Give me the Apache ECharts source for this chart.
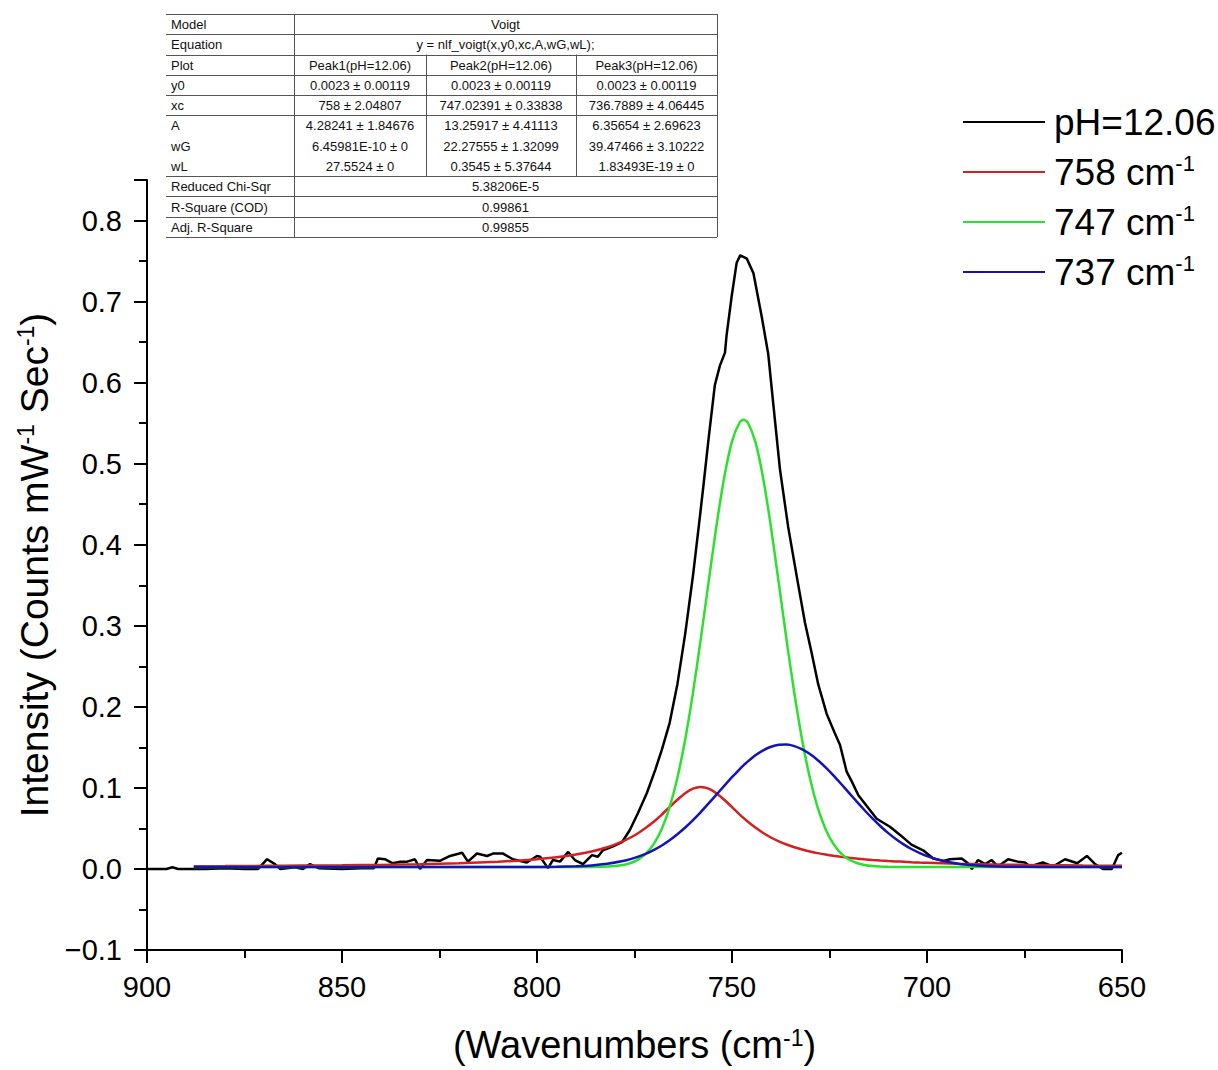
<!DOCTYPE html>
<html>
<head>
<meta charset="utf-8">
<script src="https://cdn.jsdelivr.net/npm/echarts@6/dist/echarts.min.js"></script>
<style>
html,body{margin:0;padding:0;background:#fff;}
#chart{width:1218px;height:1070px;}
</style>
</head>
<body>
<div id="chart"></div>
<script>
// ---------- DATA ----------
// Experimental spectrum (pH=12.06): wavenumber (cm-1) and intensity
const expWn = [900,895,893.5,892,885,880,875,871.5,869.2,867.2,865.9,862,860,858.2,856,850,845,841.8,840.8,839,837,835,833.3,831.3,830,828.2,824.9,822.3,819.2,817.7,815.4,812.8,811.3,808.7,806.2,802.6,800,799.2,797.2,795.9,794.1,792,790.3,788.2,785.9,784.4,783.1,780.5,778.2,776.2,774.1,771.8,769.7,768,766,764,762,760,758.2,757.3,756,754.4,753.1,751.8,751.4,750.1,748.8,747.9,746.2,744.5,742.4,740.7,739,737.7,735.6,733.4,731.3,729.6,727.9,725.7,723.6,722.3,720.6,719.3,717.6,715.5,712.9,709.5,706.9,704,701,698.4,695.8,694.1,691.1,689.5,688.5,686.9,685.1,683.4,681.8,679.2,676.7,674.9,673.6,670.3,667.7,664.6,661.5,659,656.9,654.9,652.6,651,650];
const expIntensity = [0,0,0.002,0,0,0.001,0,0,0.012,0.006,0,0.002,0,0.006,0.001,0,0.001,0.001,0.013,0.012,0.007,0.009,0.009,0.012,0,0.011,0.010,0.016,0.020,0.009,0.019,0.016,0.019,0.019,0.012,0.008,0.016,0.015,0.001,0.011,0.009,0.021,0.011,0.006,0.017,0.015,0.023,0.028,0.033,0.048,0.069,0.094,0.122,0.147,0.180,0.228,0.290,0.362,0.436,0.474,0.531,0.597,0.621,0.637,0.658,0.706,0.748,0.757,0.753,0.735,0.682,0.635,0.554,0.493,0.422,0.361,0.304,0.267,0.228,0.191,0.167,0.153,0.120,0.108,0.091,0.078,0.062,0.052,0.042,0.030,0.023,0.013,0.010,0.012,0.013,0.007,0,0.011,0.006,0.011,0.003,0.012,0.009,0.008,0.003,0.008,0.003,0.012,0.007,0.016,0.006,0,0,0.017,0.020];

// Fitted peak components on a common wavenumber grid
const fitWn = [888,880,870,860,850,840,830,820,810,800,795,790,786,782,778,776,774,772,770,768,766,764,762,760,758,756,754,752,750,748,747,746,744,742,740,738,736,734,732,730,728,726,724,722,720,718,716,714,712,710,708,706,704,702,700,696,692,688,684,680,670,660,650];
const peak758 = [0.0034,0.0035,0.0038,0.0041,0.0045,0.0050,0.0058,0.0070,0.0088,0.0119,0.0143,0.0178,0.0216,0.0268,0.0341,0.0388,0.0444,0.0510,0.0585,0.0671,0.0763,0.0854,0.0935,0.0992,0.1012,0.0992,0.0935,0.0854,0.0763,0.0671,0.0627,0.0585,0.0510,0.0444,0.0388,0.0341,0.0302,0.0268,0.0240,0.0216,0.0195,0.0178,0.0162,0.0149,0.0138,0.0128,0.0119,0.0111,0.0104,0.0098,0.0093,0.0088,0.0083,0.0079,0.0076,0.0070,0.0064,0.0060,0.0056,0.0053,0.0047,0.0042,0.0039];
const peak747 = [0.0023,0.0023,0.0023,0.0023,0.0023,0.0023,0.0023,0.0023,0.0023,0.0023,0.0023,0.0023,0.0024,0.0029,0.0049,0.0074,0.0118,0.0192,0.0312,0.0495,0.0761,0.1125,0.1598,0.2176,0.2838,0.3541,0.4228,0.4829,0.5276,0.5514,0.5543,0.5511,0.5269,0.4818,0.4214,0.3527,0.2824,0.2164,0.1588,0.1117,0.0754,0.0491,0.0309,0.0190,0.0116,0.0073,0.0049,0.0035,0.0029,0.0026,0.0024,0.0023,0.0023,0.0023,0.0023,0.0023,0.0023,0.0023,0.0023,0.0023,0.0023,0.0023,0.0023];
const peak737 = [0.0023,0.0023,0.0023,0.0023,0.0023,0.0023,0.0023,0.0023,0.0023,0.0024,0.0027,0.0033,0.0043,0.0063,0.0097,0.0121,0.0152,0.0190,0.0236,0.0290,0.0354,0.0428,0.0511,0.0603,0.0702,0.0808,0.0916,0.1025,0.1132,0.1233,0.1280,0.1324,0.1402,0.1464,0.1508,0.1532,0.1534,0.1515,0.1475,0.1417,0.1341,0.1253,0.1154,0.1048,0.0939,0.0830,0.0724,0.0623,0.0530,0.0445,0.0369,0.0303,0.0246,0.0199,0.0159,0.0101,0.0065,0.0045,0.0034,0.0028,0.0024,0.0023,0.0023];

const seriesNames = ['pH=12.06','758 cm-1','747 cm-1','737 cm-1'];
const seriesColors = ['#000000','#d42020','#2ee02e','#1414b4'];

// Fit results table (text)
const tableRows = [
  ['Model','Voigt'],
  ['Equation','y = nlf_voigt(x,y0,xc,A,wG,wL);'],
  ['Plot','Peak1(pH=12.06)','Peak2(pH=12.06)','Peak3(pH=12.06)'],
  ['y0','0.0023 ± 0.00119','0.0023 ± 0.00119','0.0023 ± 0.00119'],
  ['xc','758 ± 2.04807','747.02391 ± 0.33838','736.7889 ± 4.06445'],
  ['A','4.28241 ± 1.84676','13.25917 ± 4.41113','6.35654 ± 2.69623'],
  ['wG','6.45981E-10 ± 0','22.27555 ± 1.32099','39.47466 ± 3.10222'],
  ['wL','27.5524 ± 0','0.3545 ± 5.37644','1.83493E-19 ± 0'],
  ['Reduced Chi-Sqr','5.38206E-5'],
  ['R-Square (COD)','0.99861'],
  ['Adj. R-Square','0.99855']
];

// ---------- TABLE GRAPHIC ----------
const FONT = '"Liberation Sans", Arial, sans-serif';
const colX = [166, 294, 426, 576, 717];
const tTop = 14, rowH = 20.27;
const tBottom = tTop + rowH * tableRows.length;
const g = [];
const lineStyle = {stroke:'#555', lineWidth:1};
for (let r = 0; r <= tableRows.length; r++) {
  if (r === 6 || r === 7) continue;
  const y = Math.round(tTop + r * rowH) + 0.5;
  g.push({type:'line', shape:{x1:colX[0], y1:y, x2:colX[4], y2:y}, style: lineStyle, silent:true});
}
[colX[1], colX[4]].forEach(x => g.push({type:'line', shape:{x1:x+0.5, y1:tTop, x2:x+0.5, y2:tBottom}, style: lineStyle, silent:true}));
[colX[2], colX[3]].forEach(x => g.push({type:'line', shape:{x1:x+0.5, y1:tTop + 2*rowH, x2:x+0.5, y2:tTop + 8*rowH}, style: lineStyle, silent:true}));
tableRows.forEach((row, r) => {
  const cy = tTop + r * rowH + rowH / 2 + 0.5;
  g.push({type:'text', x: colX[0] + 5, y: cy, style:{text: row[0], font: '13px ' + FONT, fill:'#111', verticalAlign:'middle', textAlign:'left'}, silent:true});
  if (row.length === 2) {
    g.push({type:'text', x: (colX[1] + colX[4]) / 2, y: cy, style:{text: row[1], font: '13px ' + FONT, fill:'#111', verticalAlign:'middle', textAlign:'center'}, silent:true});
  } else {
    for (let c = 1; c < 4; c++) {
      g.push({type:'text', x: (colX[c] + colX[c+1]) / 2, y: cy, style:{text: row[c], font: '13px ' + FONT, fill:'#111', verticalAlign:'middle', textAlign:'center'}, silent:true});
    }
  }
});

// ---------- CHART ----------
const chart = echarts.init(document.getElementById('chart'), null, {renderer:'svg'});
const supRich = (base) => ({
  sup: {fontSize: Math.round(base * 0.6), fontFamily: FONT, color:'#000', verticalAlign:'top', lineHeight: Math.round(base*0.6)},
  n: {fontSize: base, fontFamily: FONT, color:'#000'}
});
const compData = (arr) => fitWn.map((x, i) => [x, arr[i]]);

chart.setOption({
  animation: false,
  backgroundColor: '#fff',
  textStyle: {fontFamily: FONT},
  grid: {left: 147, right: 96, top: 180, bottom: 120, containLabel: false},
  legend: {
    orient: 'vertical',
    left: 958,
    top: 97,
    itemWidth: 82,
    itemHeight: 2,
    itemGap: 10,
    icon: 'rect',
    data: seriesNames,
    formatter: (name) => name.indexOf('cm-1') >= 0 ? '{n|' + name.replace(' cm-1', ' cm') + '}{sup|-1}' : '{n|' + name + '}',
    textStyle: {fontSize: 37, lineHeight: 40, color:'#000', fontFamily: FONT, padding:[0,0,0,4], rich: supRich(37)}
  },
  xAxis: {
    type: 'value',
    min: 650, max: 900, interval: 50,
    inverse: true,
    name: '{n|(Wavenumbers (cm}{sup|-1}{n|)}',
    nameLocation: 'middle',
    nameGap: 76,
    nameTextStyle: {fontSize: 38, color:'#000', rich: supRich(38)},
    axisLine: {onZero: false, lineStyle: {color:'#000', width: 2}},
    axisTick: {show: true, inside: false, length: 13, lineStyle: {color:'#000', width: 2}},
    minorTick: {show: true, splitNumber: 2, length: 8, lineStyle: {color:'#000', width: 2}},
    axisLabel: {fontSize: 29, color:'#000', margin: 22, fontFamily: FONT},
    splitLine: {show: false}
  },
  yAxis: {
    type: 'value',
    min: -0.1, max: 0.85, interval: 0.1,
    name: '{n|Intensity (Counts mW}{sup|-1}{n| Sec}{sup|-1}{n|)}',
    nameLocation: 'middle',
    nameGap: 88,
    nameRotate: 90,
    nameTextStyle: {fontSize: 39, color:'#000', rich: supRich(39)},
    axisLine: {onZero: false, lineStyle: {color:'#000', width: 2}},
    axisTick: {show: true, inside: false, length: 13, lineStyle: {color:'#000', width: 2}},
    minorTick: {show: true, splitNumber: 2, length: 8, lineStyle: {color:'#000', width: 2}},
    axisLabel: {
      fontSize: 29, color:'#000', margin: 25, fontFamily: FONT,
      showMaxLabel: false,
      formatter: (v) => v > 0.81 ? '' : (v < 0 ? '\u2212' + Math.abs(v).toFixed(1) : v.toFixed(1))
    },
    splitLine: {show: false}
  },
  graphic: [{type:'group', x: 0, y: 0, children: g}],
  series: [
    {name: seriesNames[0], type:'line', data: expWn.map((x,i)=>[x, expIntensity[i]]), showSymbol:false, color: seriesColors[0], lineStyle:{color: seriesColors[0], width: 2.5}, z: 2},
    {name: seriesNames[1], type:'line', data: compData(peak758), smooth: 0.2, showSymbol:false, color: seriesColors[1], lineStyle:{color: seriesColors[1], width: 2.5}, z: 3},
    {name: seriesNames[2], type:'line', data: compData(peak747), smooth: 0.2, showSymbol:false, color: seriesColors[2], lineStyle:{color: seriesColors[2], width: 2.5}, z: 4},
    {name: seriesNames[3], type:'line', data: compData(peak737), smooth: 0.2, showSymbol:false, color: seriesColors[3], lineStyle:{color: seriesColors[3], width: 2.5}, z: 5}
  ]
});
</script>
</body>
</html>
